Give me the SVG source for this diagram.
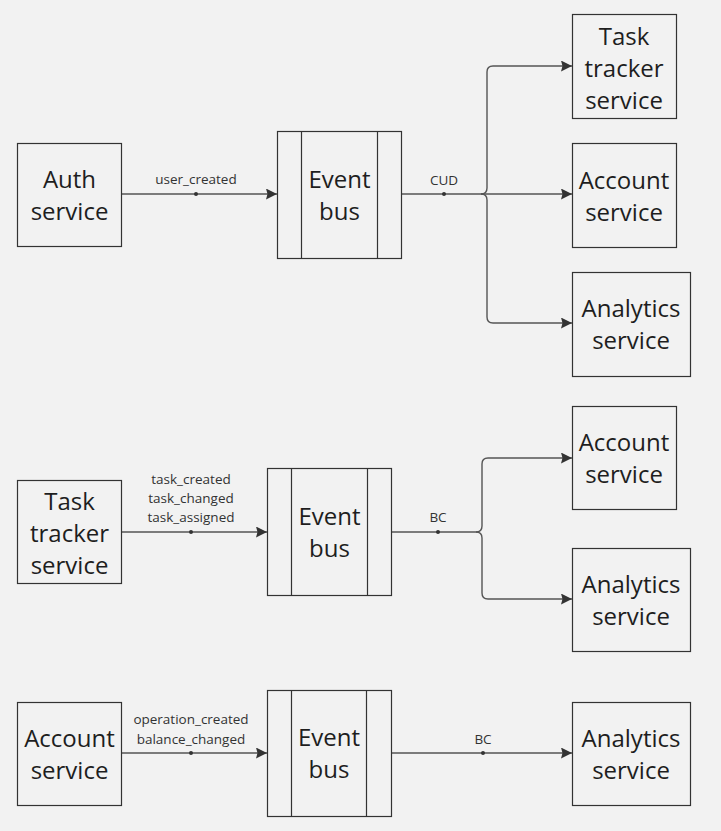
<svg xmlns="http://www.w3.org/2000/svg" width="721" height="831" viewBox="0 0 721 831">
<style>
.box{fill:#f2f2f2;stroke:#333;stroke-width:1.2}
.bar{stroke:#333;stroke-width:1.2;fill:none}
.nt{font-family:"Open Sans","Liberation Sans",sans-serif;font-size:24px;fill:#1e1e1e;text-anchor:middle}
.lt{font-family:"Open Sans","Liberation Sans",sans-serif;font-size:13.5px;fill:#333;text-anchor:middle}
.ln{fill:none;stroke:#555;stroke-width:1.4}
.dot{fill:#333}
</style>
<defs>
<marker id="arr" viewBox="0 0 11 11" refX="11" refY="5.5" markerWidth="11" markerHeight="11" markerUnits="userSpaceOnUse" orient="auto">
<path d="M0,0 L11,5.5 L0,11 L1.5,5.5 Z" fill="#333"/>
</marker>
</defs>
<rect width="721" height="831" fill="#f2f2f2"/>

<g id="connectors">
<path class="ln" d="M122,194 H277" marker-end="url(#arr)"/>
<circle class="dot" cx="196" cy="194" r="2"/>
<text class="lt" x="196" y="184">user_created</text>
<path class="ln" d="M401,194 H481"/>
<circle class="dot" cx="444" cy="194" r="2"/>
<text class="lt" x="444" y="185">CUD</text>
<path class="ln" d="M481,194 H572" marker-end="url(#arr)"/>
<path class="ln" d="M481,194 Q487,194 487,188 V72 Q487,66 493,66 H572" marker-end="url(#arr)"/>
<path class="ln" d="M481,194 Q487,194 487,200 V317 Q487,323 493,323 H572" marker-end="url(#arr)"/>

<path class="ln" d="M122,532 H267" marker-end="url(#arr)"/>
<circle class="dot" cx="191" cy="532" r="2"/>
<text class="lt" x="191" y="484">task_created</text>
<text class="lt" x="191" y="503">task_changed</text>
<text class="lt" x="191" y="522">task_assigned</text>
<path class="ln" d="M391,532 H476"/>
<circle class="dot" cx="438" cy="532" r="2"/>
<text class="lt" x="438" y="522">BC</text>
<path class="ln" d="M476,532 Q482,532 482,526 V464 Q482,458 488,458 H572" marker-end="url(#arr)"/>
<path class="ln" d="M476,532 Q482,532 482,538 V593 Q482,599 488,599 H572" marker-end="url(#arr)"/>

<path class="ln" d="M122,753 H267" marker-end="url(#arr)"/>
<circle class="dot" cx="191" cy="753" r="2"/>
<text class="lt" x="191" y="724">operation_created</text>
<text class="lt" x="191" y="744">balance_changed</text>
<path class="ln" d="M391,753 H572" marker-end="url(#arr)"/>
<circle class="dot" cx="483" cy="753" r="2"/>
<text class="lt" x="483" y="744">BC</text>
</g>

<g id="auth1">
<rect class="box" x="17.5" y="143.5" width="104" height="103"/>
<text class="nt" x="69.5" y="188">Auth</text>
<text class="nt" x="69.5" y="220">service</text>
</g>
<g id="bus1">
<rect class="box" x="277.5" y="131.5" width="124" height="127"/>
<path class="bar" d="M301.5,131.5 V258.5 M377.5,131.5 V258.5"/>
<text class="nt" x="339.5" y="188">Event</text>
<text class="nt" x="339.5" y="220">bus</text>
</g>
<g id="task1">
<rect class="box" x="572.5" y="14.5" width="104" height="104"/>
<text class="nt" x="624" y="45">Task</text>
<text class="nt" x="624" y="77">tracker</text>
<text class="nt" x="624" y="109">service</text>
</g>
<g id="account1">
<rect class="box" x="572.5" y="143.5" width="104" height="104"/>
<text class="nt" x="624" y="189">Account</text>
<text class="nt" x="624" y="221">service</text>
</g>
<g id="analytics1">
<rect class="box" x="572.5" y="272.5" width="118" height="104"/>
<text class="nt" x="631" y="317">Analytics</text>
<text class="nt" x="631" y="349">service</text>
</g>

<g id="task2">
<rect class="box" x="17.5" y="480.5" width="104" height="103"/>
<text class="nt" x="69.5" y="510">Task</text>
<text class="nt" x="69.5" y="542">tracker</text>
<text class="nt" x="69.5" y="574">service</text>
</g>
<g id="bus2">
<rect class="box" x="267.5" y="468.5" width="124" height="127"/>
<path class="bar" d="M291.5,468.5 V595.5 M367.5,468.5 V595.5"/>
<text class="nt" x="329.5" y="525">Event</text>
<text class="nt" x="329.5" y="557">bus</text>
</g>
<g id="account2">
<rect class="box" x="572.5" y="406.5" width="104" height="103"/>
<text class="nt" x="624" y="451">Account</text>
<text class="nt" x="624" y="483">service</text>
</g>
<g id="analytics2">
<rect class="box" x="572.5" y="548.5" width="118" height="103"/>
<text class="nt" x="631" y="593">Analytics</text>
<text class="nt" x="631" y="625">service</text>
</g>

<g id="account3">
<rect class="box" x="17.5" y="702.5" width="104" height="103"/>
<text class="nt" x="69.5" y="747">Account</text>
<text class="nt" x="69.5" y="779">service</text>
</g>
<g id="bus3">
<rect class="box" x="267.5" y="690.5" width="124" height="126"/>
<path class="bar" d="M291.5,690.5 V816.5 M366.5,690.5 V816.5"/>
<text class="nt" x="329" y="746">Event</text>
<text class="nt" x="329" y="778">bus</text>
</g>
<g id="analytics3">
<rect class="box" x="572.5" y="702.5" width="118" height="103"/>
<text class="nt" x="631" y="747">Analytics</text>
<text class="nt" x="631" y="779">service</text>
</g>
</svg>
